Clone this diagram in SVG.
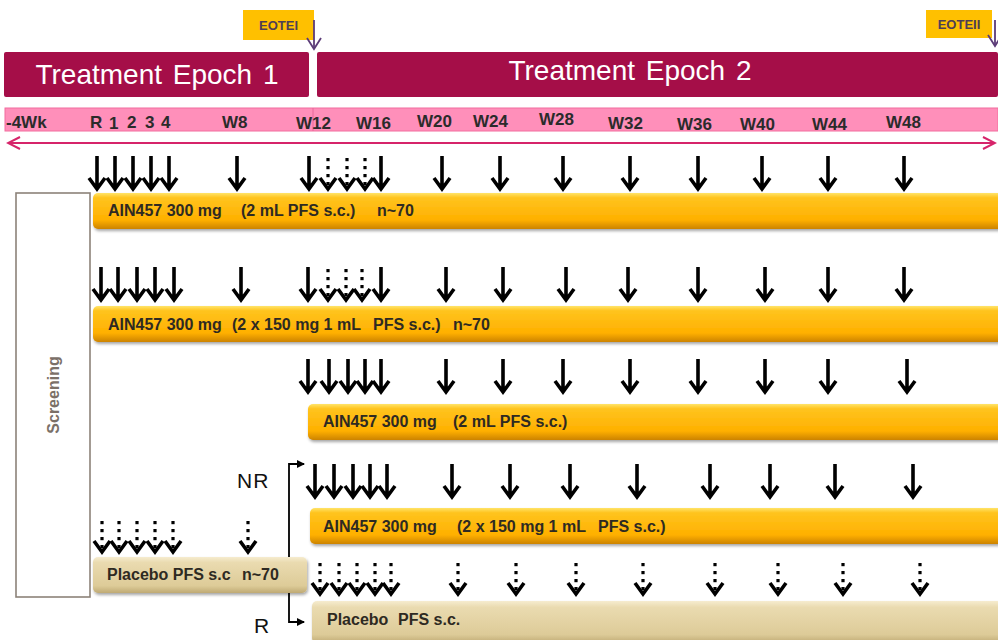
<svg xmlns="http://www.w3.org/2000/svg" width="998" height="640" viewBox="0 0 998 640">
<style>
.ep{font-family:"Liberation Sans",Arial,sans-serif;font-size:28px;fill:#fff}
.tl{font-family:"Liberation Sans",Arial,sans-serif;font-size:17px;font-weight:bold;fill:#2b2b2b}
.bt{font-family:"Liberation Sans",Arial,sans-serif;font-size:16px;font-weight:bold;fill:#2e2a22}
.eo{font-family:"Liberation Sans",Arial,sans-serif;font-size:13px;font-weight:bold;fill:#4e3e55}
.lb{font-family:"Liberation Sans",Arial,sans-serif;font-size:21px;fill:#111}
.sc{font-family:"Liberation Sans",Arial,sans-serif;font-size:16px;font-weight:bold;fill:#7b7068}
.epb{fill:#A50E48}
.org{fill:url(#gOr);filter:url(#sh)}
.bei{fill:url(#gBe);filter:url(#sh)}
</style>
<defs>
<linearGradient id="gOr" x1="0" y1="0" x2="0" y2="1">
<stop offset="0" stop-color="#FFE46A"/>
<stop offset="0.13" stop-color="#FFC41E"/>
<stop offset="0.75" stop-color="#FFB000"/>
<stop offset="1" stop-color="#CC8300"/>
</linearGradient>
<linearGradient id="gBe" x1="0" y1="0" x2="0" y2="1">
<stop offset="0" stop-color="#F6ECCF"/>
<stop offset="0.15" stop-color="#EADBB0"/>
<stop offset="0.8" stop-color="#DDCB98"/>
<stop offset="1" stop-color="#BFAA74"/>
</linearGradient>
<filter id="sh" x="-5%" y="-20%" width="110%" height="160%">
<feDropShadow dx="1" dy="2" stdDeviation="1.5" flood-color="#000" flood-opacity="0.35"/>
</filter>
<path id="sa" d="M0,-37V-4M-8,-15L0,-4L8,-15" fill="none" stroke="#000" stroke-width="3.6"/>
<g id="da">
<rect x="-1.6" y="-35" width="3.2" height="3.2"/>
<rect x="-1.6" y="-27" width="3.2" height="3.2"/>
<rect x="-1.6" y="-19" width="3.2" height="3.2"/>
<rect x="-1.6" y="-11" width="3.2" height="3.2"/>
<path d="M-8,-15L0,-4L8,-15" fill="none" stroke="#000" stroke-width="3.6"/>
</g>
<marker id="mb" markerWidth="10" markerHeight="10" refX="7" refY="4" orient="auto-start-reverse" markerUnits="userSpaceOnUse">
<path d="M0,0L8,4L0,8z" fill="#000"/>
</marker>
<marker id="mp" markerWidth="16" markerHeight="14" refX="14" refY="7" orient="auto-start-reverse" markerUnits="userSpaceOnUse">
<path d="M2,1L14,7L2,13" fill="none" stroke="#D6246A" stroke-width="2"/>
</marker>
<marker id="mv" markerWidth="16" markerHeight="16" refX="12" refY="8" orient="auto" markerUnits="userSpaceOnUse">
<path d="M1,1L12,8L1,15" fill="none" stroke="#5C3C78" stroke-width="1.8"/>
</marker>
</defs>
<rect width="998" height="640" fill="#fff"/>

<g id="eotei">
<rect x="243" y="10" width="71" height="30" fill="#FFC000"/>
<text class="eo" x="278.5" y="30" text-anchor="middle">EOTEI</text>
</g>
<g id="eoteii">
<rect x="926" y="10" width="66" height="28" fill="#FFC000"/>
<text class="eo" x="959" y="29" text-anchor="middle">EOTEII</text>
</g>

<g id="epoch1">
<rect class="epb" x="4" y="52" width="305" height="45" rx="2"/>
<text class="ep" x="157" y="84" text-anchor="middle" word-spacing="3">Treatment Epoch 1</text>
</g>
<g id="epoch2">
<rect class="epb" x="317" y="52" width="681" height="45" rx="2"/>
<text class="ep" x="630" y="80" text-anchor="middle" word-spacing="3">Treatment Epoch 2</text>
</g>

<g id="timeline">
<rect x="5" y="108" width="993" height="23" fill="#FF8FBA" stroke="#F26C9E" stroke-width="1"/>
<line x1="313" y1="108" x2="313" y2="131" stroke="#E8689A" stroke-width="1"/>
<text class="tl" x="6" y="128">-4Wk</text>
<text class="tl" x="90" y="128">R</text>
<text class="tl" x="109" y="129">1</text>
<text class="tl" x="127" y="128">2</text>
<text class="tl" x="145" y="128">3</text>
<text class="tl" x="161" y="128">4</text>
<text class="tl" x="222" y="128">W8</text>
<text class="tl" x="296" y="129">W12</text>
<text class="tl" x="356" y="129">W16</text>
<text class="tl" x="417" y="127">W20</text>
<text class="tl" x="473" y="127">W24</text>
<text class="tl" x="539" y="125">W28</text>
<text class="tl" x="608" y="129">W32</text>
<text class="tl" x="677" y="130">W36</text>
<text class="tl" x="740" y="130">W40</text>
<text class="tl" x="812" y="130">W44</text>
<text class="tl" x="886" y="128">W48</text>
</g>

<g id="screening">
<rect x="16" y="193" width="74" height="404" fill="#fff" stroke="#8C8279" stroke-width="1.6"/>
<text class="sc" transform="translate(59,395) rotate(-90)" text-anchor="middle">Screening</text>
</g>

<g id="connectors" fill="none">
<line x1="8" y1="143" x2="995" y2="143" stroke="#D6246A" stroke-width="2" marker-start="url(#mp)" marker-end="url(#mp)"/>
<path d="M314,20V49" stroke="#5C3C78" stroke-width="1.8" marker-end="url(#mv)"/>
<path d="M995,20V46" stroke="#5C3C78" stroke-width="1.8" marker-end="url(#mv)"/>
<path d="M304,464H289V622H304" stroke="#000" stroke-width="1.8" marker-start="url(#mb)" marker-end="url(#mb)"/>
</g>

<g id="label-nr"><text class="lb" x="237" y="488" letter-spacing="1">NR</text></g>
<g id="label-r"><text class="lb" x="254" y="633">R</text></g>

<g id="row1">
<rect class="org" x="93" y="193" width="910" height="36" rx="5"/>
<text class="bt" x="108" y="216">AIN457 300 mg</text>
<text class="bt" x="241" y="216">(2 mL PFS s.c.)</text>
<text class="bt" x="377" y="216">n~70</text>
<g>
<use href="#sa" x="97" y="193"/><use href="#sa" x="115" y="193"/><use href="#sa" x="133" y="193"/><use href="#sa" x="151" y="193"/><use href="#sa" x="169" y="193"/>
<use href="#sa" x="237" y="193"/><use href="#sa" x="309" y="193"/>
<use href="#da" x="328" y="193"/><use href="#da" x="347" y="193"/><use href="#da" x="365" y="193"/>
<use href="#sa" x="381" y="193"/><use href="#sa" x="442" y="193"/><use href="#sa" x="500" y="193"/><use href="#sa" x="563" y="193"/><use href="#sa" x="630" y="193"/><use href="#sa" x="698" y="193"/><use href="#sa" x="762" y="193"/><use href="#sa" x="828" y="193"/><use href="#sa" x="904" y="193"/>
</g>
</g>

<g id="row2">
<rect class="org" x="93" y="306" width="910" height="36" rx="5"/>
<text class="bt" x="108" y="330">AIN457 300 mg</text>
<text class="bt" x="232" y="330">(2 x 150 mg 1 mL</text>
<text class="bt" x="373" y="330">PFS s.c.)</text>
<text class="bt" x="453" y="330">n~70</text>
<g>
<use href="#sa" x="101" y="304"/><use href="#sa" x="118" y="304"/><use href="#sa" x="137" y="304"/><use href="#sa" x="155" y="304"/><use href="#sa" x="174" y="304"/>
<use href="#sa" x="241" y="304"/><use href="#sa" x="308" y="304"/>
<use href="#da" x="328" y="304"/><use href="#da" x="346" y="304"/><use href="#da" x="362" y="304"/>
<use href="#sa" x="381" y="304"/><use href="#sa" x="446" y="304"/><use href="#sa" x="503" y="304"/><use href="#sa" x="566" y="304"/><use href="#sa" x="628" y="304"/><use href="#sa" x="698" y="304"/><use href="#sa" x="765" y="304"/><use href="#sa" x="828" y="304"/><use href="#sa" x="904" y="304"/>
</g>
</g>

<g id="row3">
<rect class="org" x="308" y="404" width="695" height="36" rx="5"/>
<text class="bt" x="323" y="427">AIN457 300 mg</text>
<text class="bt" x="453" y="427">(2 mL PFS s.c.)</text>
<g>
<use href="#sa" x="308" y="396"/><use href="#sa" x="329" y="396"/><use href="#sa" x="348" y="396"/><use href="#sa" x="365" y="396"/><use href="#sa" x="381" y="396"/>
<use href="#sa" x="446" y="396"/><use href="#sa" x="503" y="396"/><use href="#sa" x="563" y="396"/><use href="#sa" x="630" y="396"/><use href="#sa" x="698" y="396"/><use href="#sa" x="765" y="396"/><use href="#sa" x="828" y="396"/><use href="#sa" x="907" y="396"/>
</g>
</g>

<g id="row4">
<rect class="org" x="310" y="508" width="693" height="36" rx="5"/>
<text class="bt" x="323" y="532">AIN457 300 mg</text>
<text class="bt" x="457" y="532">(2 x 150 mg 1 mL</text>
<text class="bt" x="598" y="532">PFS s.c.)</text>
<g>
<use href="#sa" x="315" y="501"/><use href="#sa" x="334" y="501"/><use href="#sa" x="353" y="501"/><use href="#sa" x="370" y="501"/><use href="#sa" x="387" y="501"/>
<use href="#sa" x="452" y="501"/><use href="#sa" x="510" y="501"/><use href="#sa" x="570" y="501"/><use href="#sa" x="637" y="501"/><use href="#sa" x="710" y="501"/><use href="#sa" x="770" y="501"/><use href="#sa" x="835" y="501"/><use href="#sa" x="913" y="501"/>
</g>
</g>

<g id="row5">
<rect class="bei" x="93" y="557" width="214" height="36" rx="5"/>
<text class="bt" x="107" y="580">Placebo PFS s.c</text>
<text class="bt" x="242" y="580">n~70</text>
<g>
<use href="#da" x="102" y="556"/><use href="#da" x="119" y="556"/><use href="#da" x="137" y="556"/><use href="#da" x="155" y="556"/><use href="#da" x="173" y="556"/>
<use href="#da" x="248" y="556"/>
</g>
</g>

<g id="row6">
<rect class="bei" x="312" y="601" width="691" height="42" rx="5"/>
<text class="bt" x="327" y="625">Placebo</text>
<text class="bt" x="398" y="625">PFS s.c.</text>
<g>
<use href="#da" x="320" y="598"/><use href="#da" x="339" y="598"/><use href="#da" x="357" y="598"/><use href="#da" x="375" y="598"/><use href="#da" x="391" y="598"/>
<use href="#da" x="458" y="598"/><use href="#da" x="516" y="598"/><use href="#da" x="576" y="598"/><use href="#da" x="643" y="598"/><use href="#da" x="715" y="598"/><use href="#da" x="778" y="598"/><use href="#da" x="843" y="598"/><use href="#da" x="920" y="598"/>
</g>
</g>
</svg>
